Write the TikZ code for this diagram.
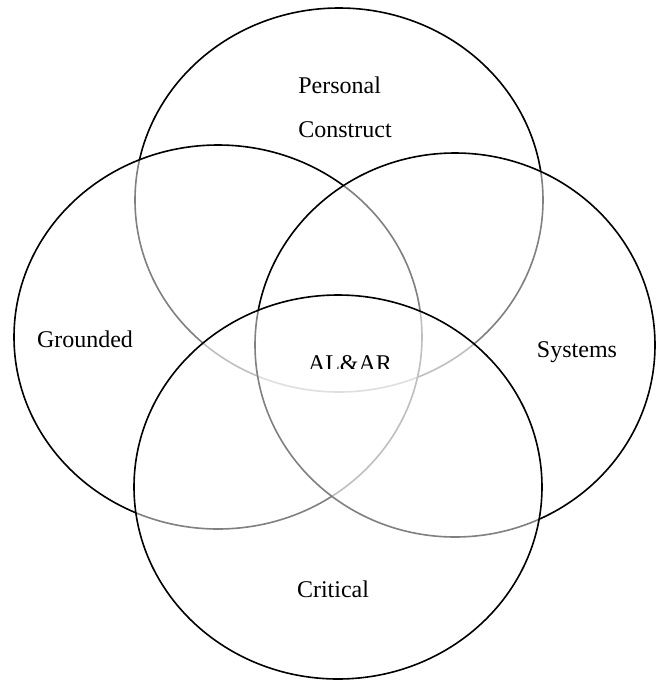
\documentclass[tikz,border=0pt]{standalone}
\usepackage{fontspec}
\setmainfont{Liberation Serif}
\usepackage{tikz}

\begin{document}
\begin{tikzpicture}[x=0.5pt, y=-0.5pt, venn/.style={draw=black, line width=0.8pt, fill=white, fill opacity=0.5}, lbl/.style={font=\fontsize{12}{14}\selectfont, inner sep=0pt}]
                      \useasboundingbox (0,0) rectangle (655,681);
                      \draw[venn] (339,200) ellipse [x radius=204, y radius=192];
                      \draw[venn] (218,337) ellipse [x radius=204, y radius=192];
                      \draw[venn] (455,345) ellipse [x radius=200, y radius=192];
                      \draw[venn] (338,487) ellipse [x radius=204, y radius=192];
                      \node[lbl, anchor=base west] (personal) at (298,93) {Personal};
                      \node[lbl, anchor=base west] (construct) at (298,137) {Construct};
                      \node[lbl, anchor=base] (grounded) at (85,347) {Grounded};
                      \node[lbl, anchor=base] (systems) at (577,357) {Systems};
                      \node[lbl, anchor=base] (critical) at (333,597) {Critical};
                      \begin{scope}
                      \clip (290,340) rectangle (410,368);
                      \node[lbl, anchor=base] (alar) at (350,371) {AL\&AR};
                      \end{scope}
                  \end{tikzpicture}
\end{document}
